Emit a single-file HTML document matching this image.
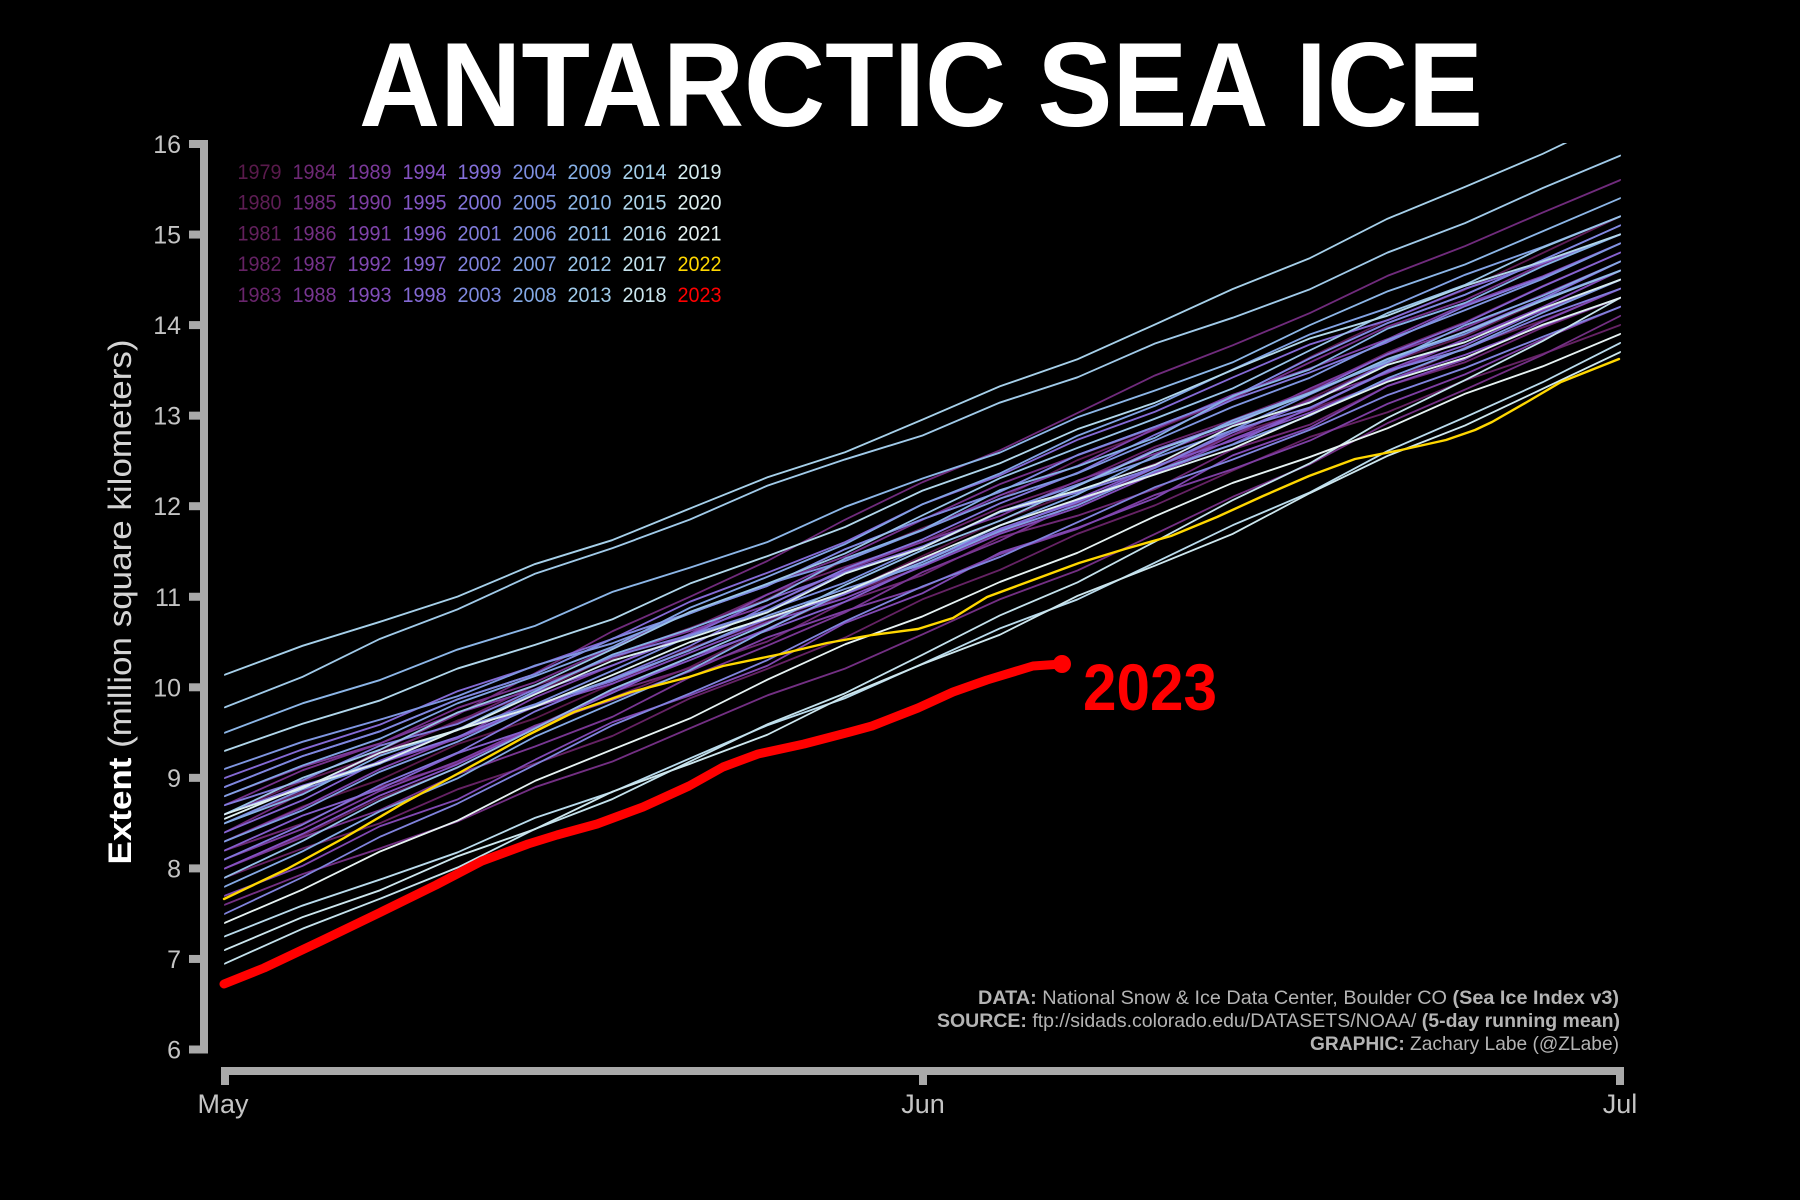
<!DOCTYPE html>
<html>
<head>
<meta charset="utf-8">
<style>
html,body{margin:0;padding:0;background:#000;width:1800px;height:1200px;overflow:hidden;}
svg{display:block;}
text{font-family:"Liberation Sans",sans-serif;}
</style>
</head>
<body>
<svg width="1800" height="1200" viewBox="0 0 1800 1200" xmlns="http://www.w3.org/2000/svg" xmlns:xlink="http://www.w3.org/1999/xlink">
<rect width="1800" height="1200" fill="#000"/>
<defs>
<clipPath id="c"><rect x="209" y="143" width="1420" height="910"/></clipPath>
<path id="A" d="M0,0 L77.5,-3 L155,2 L232.5,-2 L310,4 L387.5,1 L465,-3 L542.5,2 L620,5 L697.5,0 L775,-4 L852.5,-1 L930,3 L1007.5,6 L1085,1 L1162.5,-3 L1240,2 L1317.5,-2 L1395,0"/>
<path id="B" d="M0,0 L77.5,-0.4 L155,-5.8 L232.5,-4 L310,-11 L387.5,-9.7 L465,-8.1 L542.5,-14.2 L620,-16.8 L697.5,-12 L775,-13.8 L852.5,-10.2 L930,-14.1 L1007.5,-14.7 L1085,-8 L1162.5,-4 L1240,-5.8 L1317.5,-0.4 L1395,0"/>
<path id="C" d="M0,0 L77.5,0.4 L155,6.8 L232.5,6 L310,12 L387.5,7.7 L465,13.1 L542.5,17.2 L620,11.8 L697.5,13 L775,16.8 L852.5,11.2 L930,14.1 L1007.5,15.7 L1085,8 L1162.5,4 L1240,6.8 L1317.5,3.4 L1395,0"/>
<path id="D" d="M0,0 L77.5,1.7 L155,7.1 L232.5,3.9 L310,8.9 L387.5,11.9 L465,4.9 L542.5,6.1 L620,5.7 L697.5,-2 L775,-0.7 L852.5,-6.1 L930,-3.9 L1007.5,-7.9 L1085,-10.9 L1162.5,-4.9 L1240,-6.1 L1317.5,-1.7 L1395,0"/>
<path id="E" d="M0,0 L77.5,0.3 L155,-7.1 L232.5,-5.9 L310,-10.9 L387.5,-5.9 L465,-3.9 L542.5,-7.1 L620,-2.7 L697.5,4 L775,1.7 L852.5,7.1 L930,3.9 L1007.5,8.9 L1085,10.9 L1162.5,4.9 L1240,6.1 L1317.5,1.7 L1395,0"/>
<path id="F" d="M0,0 L77.5,4 L155,-2 L232.5,5 L310,-1 L387.5,-5 L465,2 L542.5,6 L620,-3 L697.5,1 L775,-6 L852.5,3 L930,7 L1007.5,-2 L1085,4 L1162.5,-4 L1240,3 L1317.5,-1 L1395,0"/>
<path id="G" d="M0,0 L77.5,-2.8 L155,-9.5 L232.5,-9 L310,-14.1 L387.5,-19.9 L465,-18.1 L542.5,-17.7 L620,-22.7 L697.5,-24 L775,-19.7 L852.5,-20.7 L930,-22.1 L1007.5,-15.9 L1085,-12.1 L1162.5,-13 L1240,-6.5 L1317.5,-3.8 L1395,0"/>
<path id="H" d="M0,0 L77.5,2.2 L155,9.2 L232.5,15 L310,13.4 L387.5,20.4 L465,19.8 L542.5,19.6 L620,25.6 L697.5,24 L775,21.6 L852.5,25.6 L930,21.8 L1007.5,17.4 L1085,17.4 L1162.5,9 L1240,8.2 L1317.5,6.2 L1395,0"/>
</defs>

<!-- Title -->
<text x="359" y="126" font-size="120" font-weight="bold" fill="#fff" textLength="1124" lengthAdjust="spacingAndGlyphs">ANTARCTIC SEA ICE</text>

<!-- Background year lines -->
<g clip-path="url(#c)" fill="none" stroke-width="2" stroke-linejoin="round" stroke-linecap="round">
<use href="#A" xlink:href="#A" transform="matrix(1,-0.4089,0,1,225,841.2)" stroke="#5a1a4c"/>
<use href="#C" xlink:href="#C" transform="matrix(1,-0.4284,0,1,225,814.1)" stroke="#5e1d54"/>
<use href="#B" xlink:href="#B" transform="matrix(1,-0.4154,0,1,225,868.4)" stroke="#62205c"/>
<use href="#D" xlink:href="#D" transform="matrix(1,-0.3960,0,1,225,877.5)" stroke="#652264"/>
<use href="#E" xlink:href="#E" transform="matrix(1,-0.4089,0,1,225,823.1)" stroke="#69256c"/>
<use href="#F" xlink:href="#F" transform="matrix(1,-0.3960,0,1,225,850.3)" stroke="#6d2874"/>
<use href="#G" xlink:href="#G" transform="matrix(1,-0.4674,0,1,225,832.2)" stroke="#702b7c"/>
<use href="#H" xlink:href="#H" transform="matrix(1,-0.4219,0,1,225,904.6)" stroke="#732f83"/>
<use href="#A" xlink:href="#A" transform="matrix(1,-0.4089,0,1,225,805.0)" stroke="#75328b"/>
<use href="#D" xlink:href="#D" transform="matrix(1,-0.4219,0,1,225,868.4)" stroke="#783692"/>
<use href="#C" xlink:href="#C" transform="matrix(1,-0.3830,0,1,225,796.0)" stroke="#7b399a"/>
<use href="#E" xlink:href="#E" transform="matrix(1,-0.3960,0,1,225,859.3)" stroke="#7d3ea2"/>
<use href="#B" xlink:href="#B" transform="matrix(1,-0.4284,0,1,225,841.2)" stroke="#7f43aa"/>
<use href="#F" xlink:href="#F" transform="matrix(1,-0.4349,0,1,225,895.6)" stroke="#8048b2"/>
<use href="#H" xlink:href="#H" transform="matrix(1,-0.3895,0,1,225,814.1)" stroke="#824dba"/>
<use href="#G" xlink:href="#G" transform="matrix(1,-0.4089,0,1,225,868.4)" stroke="#8452c2"/>
<use href="#C" xlink:href="#C" transform="matrix(1,-0.4024,0,1,225,786.9)" stroke="#8458c7"/>
<use href="#A" xlink:href="#A" transform="matrix(1,-0.4089,0,1,225,850.3)" stroke="#845ecc"/>
<use href="#E" xlink:href="#E" transform="matrix(1,-0.4154,0,1,225,832.2)" stroke="#8464d0"/>
<use href="#D" xlink:href="#D" transform="matrix(1,-0.3895,0,1,225,777.9)" stroke="#846ad5"/>
<use href="#H" xlink:href="#H" transform="matrix(1,-0.3960,0,1,225,814.1)" stroke="#8470da"/>
<use href="#B" xlink:href="#B" transform="matrix(1,-0.4414,0,1,225,859.3)" stroke="#8376db"/>
<use href="#F" xlink:href="#F" transform="matrix(1,-0.3700,0,1,225,805.0)" stroke="#817cdc"/>
<use href="#G" xlink:href="#G" transform="matrix(1,-0.4349,0,1,225,913.7)" stroke="#8083dd"/>
<use href="#C" xlink:href="#C" transform="matrix(1,-0.4024,0,1,225,786.9)" stroke="#7e89df"/>
<use href="#A" xlink:href="#A" transform="matrix(1,-0.3960,0,1,225,823.1)" stroke="#7d8fe0"/>
<use href="#H" xlink:href="#H" transform="matrix(1,-0.3765,0,1,225,768.8)" stroke="#7f96e1"/>
<use href="#E" xlink:href="#E" transform="matrix(1,-0.4024,0,1,225,841.2)" stroke="#819ce2"/>
<use href="#D" xlink:href="#D" transform="matrix(1,-0.4154,0,1,225,796.0)" stroke="#82a3e4"/>
<use href="#B" xlink:href="#B" transform="matrix(1,-0.4479,0,1,225,886.5)" stroke="#84a9e5"/>
<use href="#F" xlink:href="#F" transform="matrix(1,-0.4219,0,1,225,823.1)" stroke="#86b0e6"/>
<use href="#C" xlink:href="#C" transform="matrix(1,-0.3830,0,1,225,732.6)" stroke="#8cb6e7"/>
<use href="#G" xlink:href="#G" transform="matrix(1,-0.4349,0,1,225,877.5)" stroke="#93bde7"/>
<use href="#A" xlink:href="#A" transform="matrix(1,-0.4284,0,1,225,814.1)" stroke="#99c3e8"/>
<use href="#E" xlink:href="#E" transform="matrix(1,-0.3953,0,1,225,707.2)" stroke="#a0cae9"/>
<use href="#H" xlink:href="#H" transform="matrix(1,-0.3999,0,1,225,674.6)" stroke="#a6d0ea"/>
<use href="#D" xlink:href="#D" transform="matrix(1,-0.3700,0,1,225,750.7)" stroke="#b0d6eb"/>
<use href="#H" xlink:href="#H" transform="matrix(1,-0.4252,0,1,225,936.3)" stroke="#b9dbec"/>
<use href="#H" xlink:href="#H" transform="matrix(1,-0.4771,0,1,225,963.5)" stroke="#c3e1ec"/>
<use href="#C" xlink:href="#C" transform="matrix(1,-0.4284,0,1,225,949.9)" stroke="#cce6ee"/>
<use href="#F" xlink:href="#F" transform="matrix(1,-0.3830,0,1,225,814.1)" stroke="#d6ecef"/>
<use href="#A" xlink:href="#A" transform="matrix(1,-0.3732,0,1,225,818.6)" stroke="#deeff0"/>
<use href="#B" xlink:href="#B" transform="matrix(1,-0.4219,0,1,225,922.7)" stroke="#e6f2f2"/>
</g>

<!-- 2022 -->
<path clip-path="url(#c)" fill="none" stroke="#ffd700" stroke-width="2.4" stroke-linejoin="round" stroke-linecap="round"
d="M224,899 L287,869 L344,838 L402,804 L459,773 L528,735 L574,712 L631,692 L689,677 L723,666 L781,654 L827,643 L872,635 L918,629 L953,618 L987,597 L1033,580 L1079,563 L1125,549 L1171,536 L1217,517 L1263,496 L1309,476 L1355,459 L1401,450 L1446,440 L1475,430 L1492,422 L1527,402 L1561,382 L1619,359"/>

<!-- 2023 -->
<path fill="none" stroke="#ff0000" stroke-width="9" stroke-linejoin="round" stroke-linecap="round"
d="M224,984 L264,968 L321,941 L379,913 L436,885 L482,861 L528,844 L557,835 L597,824 L643,807 L689,786 L723,767 L758,754 L804,744 L850,732 L872,726 L918,708 L953,692 L987,680 L1033,666 L1062,664"/>
<circle cx="1062" cy="664" r="9" fill="#ff0000"/>
<text x="1083" y="710" font-size="66" font-weight="bold" fill="#ff0000" textLength="134" lengthAdjust="spacingAndGlyphs">2023</text>

<!-- Y axis -->
<g fill="#a9a9a9">
<rect x="200" y="140" width="8" height="913.5"/>
<rect x="189" y="1045.5" width="12" height="8"/>
<rect x="189" y="954.95" width="12" height="8"/>
<rect x="189" y="864.4" width="12" height="8"/>
<rect x="189" y="773.85" width="12" height="8"/>
<rect x="189" y="683.3" width="12" height="8"/>
<rect x="189" y="592.75" width="12" height="8"/>
<rect x="189" y="502.2" width="12" height="8"/>
<rect x="189" y="411.65" width="12" height="8"/>
<rect x="189" y="321.1" width="12" height="8"/>
<rect x="189" y="230.55" width="12" height="8"/>
<rect x="189" y="140" width="12" height="8"/>
</g>
<g font-size="25" fill="#c4c4c4" text-anchor="end">
<text x="181" y="1058.5">6</text>
<text x="181" y="967.95">7</text>
<text x="181" y="877.4">8</text>
<text x="181" y="786.85">9</text>
<text x="181" y="696.3">10</text>
<text x="181" y="605.75">11</text>
<text x="181" y="515.2">12</text>
<text x="181" y="424.65">13</text>
<text x="181" y="334.1">14</text>
<text x="181" y="243.55">15</text>
<text x="181" y="153">16</text>
</g>

<!-- X axis -->
<g fill="#a9a9a9">
<rect x="221" y="1067" width="1403" height="8"/>
<rect x="221" y="1067" width="8" height="18"/>
<rect x="919" y="1067" width="8" height="18"/>
<rect x="1616" y="1067" width="8" height="18"/>
</g>
<g font-size="27" fill="#c4c4c4" text-anchor="middle">
<text x="223" y="1113">May</text>
<text x="923" y="1113">Jun</text>
<text x="1620" y="1113">Jul</text>
</g>

<!-- Y label -->
<text transform="translate(131,602) rotate(-90)" text-anchor="middle" font-size="32" textLength="525" lengthAdjust="spacingAndGlyphs"><tspan font-weight="bold" fill="#ffffff">Extent</tspan><tspan fill="#d4d4d4"> (million square kilometers)</tspan></text>

<!-- Legend -->
<g font-size="21" lengthAdjust="spacingAndGlyphs">
<text x="237.5" y="179" textLength="44" lengthAdjust="spacingAndGlyphs" fill="#5a1a4c">1979</text>
<text x="237.5" y="209.7" textLength="44" lengthAdjust="spacingAndGlyphs" fill="#5e1d54">1980</text>
<text x="237.5" y="240.4" textLength="44" lengthAdjust="spacingAndGlyphs" fill="#62205c">1981</text>
<text x="237.5" y="271.1" textLength="44" lengthAdjust="spacingAndGlyphs" fill="#652264">1982</text>
<text x="237.5" y="301.8" textLength="44" lengthAdjust="spacingAndGlyphs" fill="#69256c">1983</text>

<text x="292.5" y="179" textLength="44" lengthAdjust="spacingAndGlyphs" fill="#6d2874">1984</text>
<text x="292.5" y="209.7" textLength="44" lengthAdjust="spacingAndGlyphs" fill="#702b7c">1985</text>
<text x="292.5" y="240.4" textLength="44" lengthAdjust="spacingAndGlyphs" fill="#732f83">1986</text>
<text x="292.5" y="271.1" textLength="44" lengthAdjust="spacingAndGlyphs" fill="#75328b">1987</text>
<text x="292.5" y="301.8" textLength="44" lengthAdjust="spacingAndGlyphs" fill="#783692">1988</text>

<text x="347.5" y="179" textLength="44" lengthAdjust="spacingAndGlyphs" fill="#7b399a">1989</text>
<text x="347.5" y="209.7" textLength="44" lengthAdjust="spacingAndGlyphs" fill="#7d3ea2">1990</text>
<text x="347.5" y="240.4" textLength="44" lengthAdjust="spacingAndGlyphs" fill="#7f43aa">1991</text>
<text x="347.5" y="271.1" textLength="44" lengthAdjust="spacingAndGlyphs" fill="#8048b2">1992</text>
<text x="347.5" y="301.8" textLength="44" lengthAdjust="spacingAndGlyphs" fill="#824dba">1993</text>

<text x="402.5" y="179" textLength="44" lengthAdjust="spacingAndGlyphs" fill="#8452c2">1994</text>
<text x="402.5" y="209.7" textLength="44" lengthAdjust="spacingAndGlyphs" fill="#8458c7">1995</text>
<text x="402.5" y="240.4" textLength="44" lengthAdjust="spacingAndGlyphs" fill="#845ecc">1996</text>
<text x="402.5" y="271.1" textLength="44" lengthAdjust="spacingAndGlyphs" fill="#8464d0">1997</text>
<text x="402.5" y="301.8" textLength="44" lengthAdjust="spacingAndGlyphs" fill="#846ad5">1998</text>

<text x="457.5" y="179" textLength="44" lengthAdjust="spacingAndGlyphs" fill="#8470da">1999</text>
<text x="457.5" y="209.7" textLength="44" lengthAdjust="spacingAndGlyphs" fill="#8376db">2000</text>
<text x="457.5" y="240.4" textLength="44" lengthAdjust="spacingAndGlyphs" fill="#817cdc">2001</text>
<text x="457.5" y="271.1" textLength="44" lengthAdjust="spacingAndGlyphs" fill="#8083dd">2002</text>
<text x="457.5" y="301.8" textLength="44" lengthAdjust="spacingAndGlyphs" fill="#7e89df">2003</text>

<text x="512.5" y="179" textLength="44" lengthAdjust="spacingAndGlyphs" fill="#7d8fe0">2004</text>
<text x="512.5" y="209.7" textLength="44" lengthAdjust="spacingAndGlyphs" fill="#7f96e1">2005</text>
<text x="512.5" y="240.4" textLength="44" lengthAdjust="spacingAndGlyphs" fill="#819ce2">2006</text>
<text x="512.5" y="271.1" textLength="44" lengthAdjust="spacingAndGlyphs" fill="#82a3e4">2007</text>
<text x="512.5" y="301.8" textLength="44" lengthAdjust="spacingAndGlyphs" fill="#84a9e5">2008</text>

<text x="567.5" y="179" textLength="44" lengthAdjust="spacingAndGlyphs" fill="#86b0e6">2009</text>
<text x="567.5" y="209.7" textLength="44" lengthAdjust="spacingAndGlyphs" fill="#8cb6e7">2010</text>
<text x="567.5" y="240.4" textLength="44" lengthAdjust="spacingAndGlyphs" fill="#93bde7">2011</text>
<text x="567.5" y="271.1" textLength="44" lengthAdjust="spacingAndGlyphs" fill="#99c3e8">2012</text>
<text x="567.5" y="301.8" textLength="44" lengthAdjust="spacingAndGlyphs" fill="#a0cae9">2013</text>

<text x="622.5" y="179" textLength="44" lengthAdjust="spacingAndGlyphs" fill="#a6d0ea">2014</text>
<text x="622.5" y="209.7" textLength="44" lengthAdjust="spacingAndGlyphs" fill="#b0d6eb">2015</text>
<text x="622.5" y="240.4" textLength="44" lengthAdjust="spacingAndGlyphs" fill="#b9dbec">2016</text>
<text x="622.5" y="271.1" textLength="44" lengthAdjust="spacingAndGlyphs" fill="#c3e1ec">2017</text>
<text x="622.5" y="301.8" textLength="44" lengthAdjust="spacingAndGlyphs" fill="#cce6ee">2018</text>

<text x="677.5" y="179" textLength="44" lengthAdjust="spacingAndGlyphs" fill="#d6ecef">2019</text>
<text x="677.5" y="209.7" textLength="44" lengthAdjust="spacingAndGlyphs" fill="#deeff0">2020</text>
<text x="677.5" y="240.4" textLength="44" lengthAdjust="spacingAndGlyphs" fill="#e6f2f2">2021</text>
<text x="677.5" y="271.1" textLength="44" lengthAdjust="spacingAndGlyphs" fill="#ffd700">2022</text>
<text x="677.5" y="301.8" textLength="44" lengthAdjust="spacingAndGlyphs" fill="#ff0000">2023</text>
</g>

<!-- Credits -->
<g font-size="19.5" fill="#b4b4b4">
<text x="978" y="1004" textLength="641" lengthAdjust="spacingAndGlyphs"><tspan font-weight="bold">DATA:</tspan> National Snow &amp; Ice Data Center, Boulder CO <tspan font-weight="bold">(Sea Ice Index v3)</tspan></text>
<text x="937" y="1027" textLength="683" lengthAdjust="spacingAndGlyphs"><tspan font-weight="bold">SOURCE:</tspan> ftp://sidads.colorado.edu/DATASETS/NOAA/ <tspan font-weight="bold">(5-day running mean)</tspan></text>
<text x="1310" y="1050" textLength="309" lengthAdjust="spacingAndGlyphs"><tspan font-weight="bold">GRAPHIC:</tspan> Zachary Labe (@ZLabe)</text>
</g>
</svg>
</body>
</html>
